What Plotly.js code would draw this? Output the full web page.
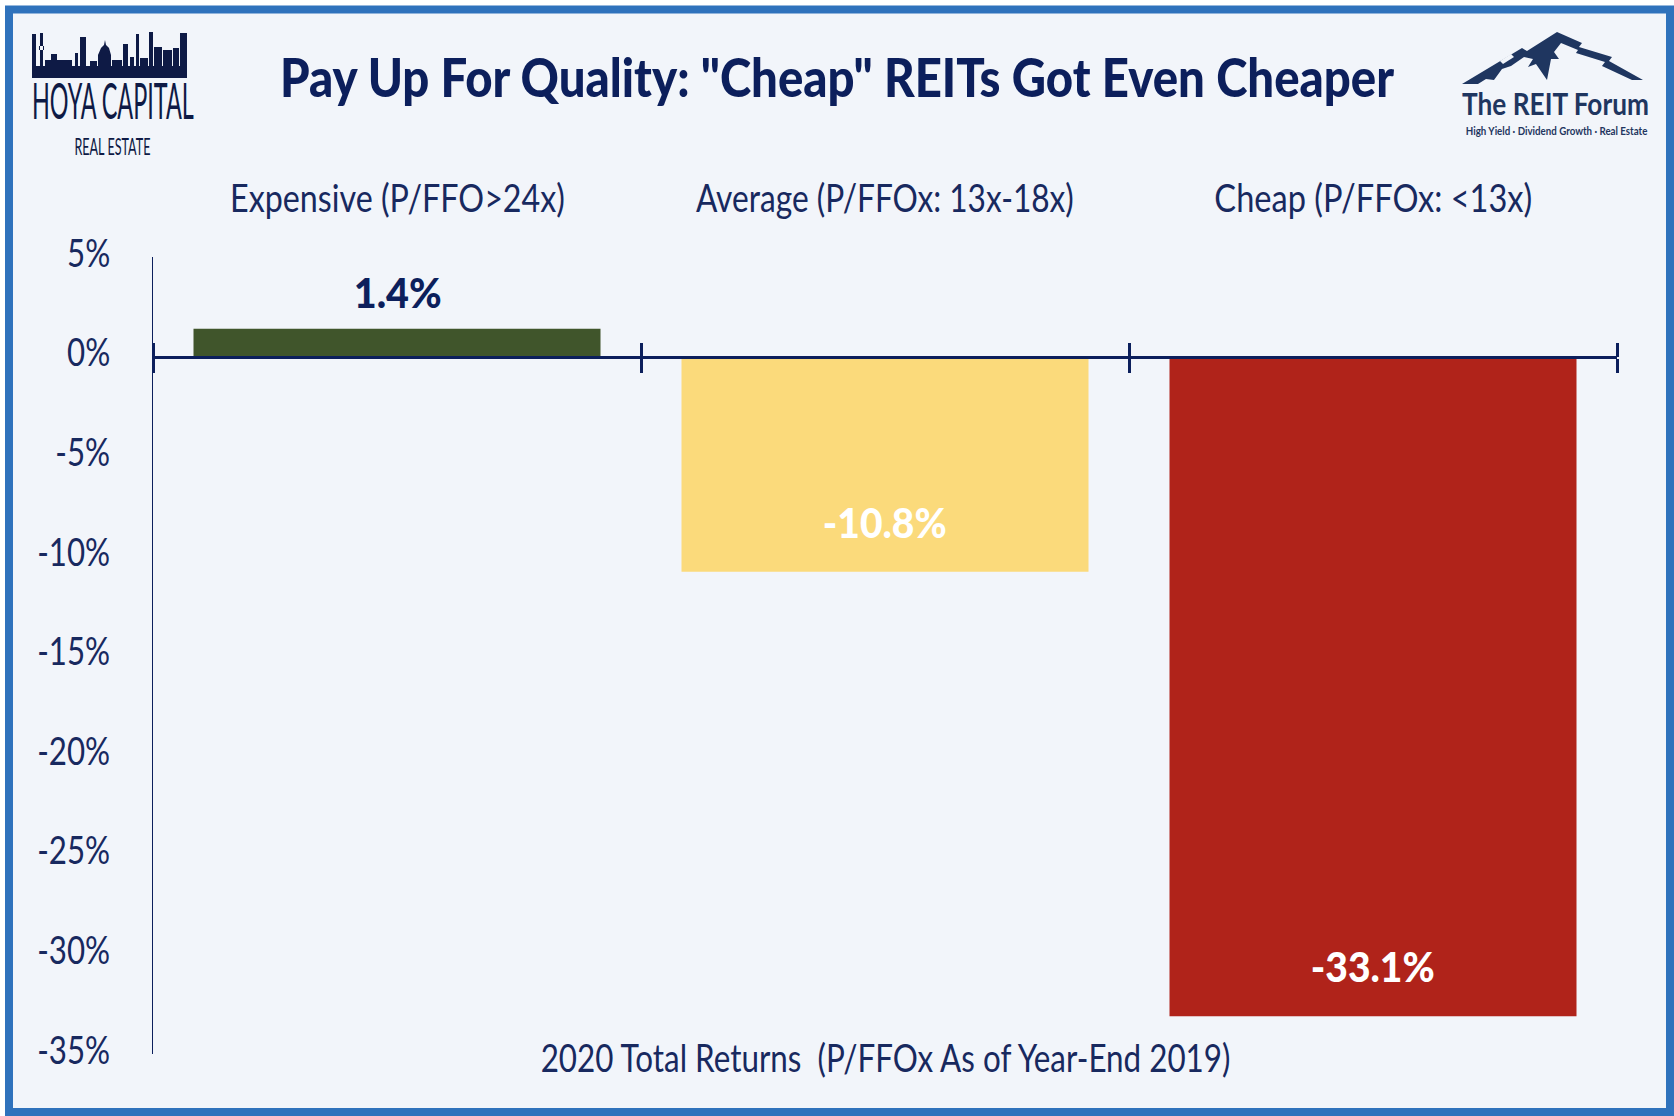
<!DOCTYPE html>
<html>
<head>
<meta charset="utf-8">
<script src="https://cdn.plot.ly/plotly-3.0.1.min.js"></script>
<style>
  html, body { margin: 0; padding: 0; background: #ffffff; }
  #chart { width: 1674px; height: 1116px; }
</style>
</head>
<body>
<div id="chart"></div>
<script>
// ---- data ----
var categories = ['Expensive (P/FFO>24x)', 'Average (P/FFOx: 13x-18x)', 'Cheap (P/FFOx: <13x)'];
var returns2020 = [1.4, -10.8, -33.1];
var barColors = ['#40552B', '#FBDA7B', '#B0231A'];
var yTicks = [5, 0, -5, -10, -15, -20, -25, -30, -35];
var chartTitle = 'Pay Up For Quality: "Cheap" REITs Got Even Cheaper';
var xTitle = '2020 Total Returns \u00A0(P/FFOx As of Year-End 2019)';

// ---- page geometry (pixels) ----
var FW = 1674, FH = 1116;
var M = {l: 153, r: 57, t: 257, b: 62};
var PW = FW - M.l - M.r, PH = FH - M.t - M.b;
function px(x) { return (x - M.l) / PW; }
function py(y) { return (FH - M.b - y) / PH; }
function path(pts) {
  return 'M' + pts.map(function (p) { return px(p[0]).toFixed(5) + ',' + py(p[1]).toFixed(5); }).join('L') + 'Z';
}
function box(x0, x1, y0, y1) { return path([[x0, y0], [x1, y0], [x1, y1], [x0, y1]]); }
function esc(s) { return s.replace(/</g, '&lt;').replace(/>/g, '&gt;'); }

var NAVY = '#0C1F5C';
var NAVY_TXT = '#18295F';
var FONT = 'Lato, "Open Sans", "DejaVu Sans", sans-serif';

var idx = categories.map(function (c, i) { return i; });
var bounds = idx.map(function (i) { return i - 0.5; }).concat([idx.length - 0.5]);
var yMin = yTicks[yTicks.length - 1], yMax = yTicks[0];
var zeroPos = (0 - yMin) / (yMax - yMin);

var data = [
  {
    type: 'bar',
    x: idx,
    y: returns2020,
    width: 0.834,
    marker: {color: barColors, line: {width: 0}},
    hoverinfo: 'skip'
  },
  { // carrier for the upper tick marks on the zero line
    type: 'scatter',
    x: idx,
    y: returns2020,
    xaxis: 'x2',
    mode: 'none',
    hoverinfo: 'skip',
    showlegend: false
  }
];

// skyline (Hoya Capital logo)
var skyline = [
  box(32, 187, 66, 78),
  box(32, 36, 34, 66), box(40, 43, 33, 66), box(39, 44, 46, 50),
  box(45, 72, 60, 66), box(51, 57, 54, 60),
  box(75, 78, 53, 66), box(80, 86, 37, 66), box(90, 97, 61, 66),
  path([[98, 66], [98, 55], [101, 48], [104, 45], [105, 40], [106, 45], [109, 48], [111, 55], [111, 66]]),
  box(112, 122, 60, 66), box(123, 128, 44, 66), box(130, 134, 57, 66),
  box(136, 139, 34, 66), box(140, 148, 58, 66), box(149, 153, 32, 66),
  box(154, 162, 47, 66), box(163, 172, 50, 66), box(173, 179, 48, 66), box(180, 187, 33, 66)
];

// mountain (The REIT Forum logo)
var mountain = path([
  [1462, 84], [1522, 48], [1527, 51], [1557, 32], [1582, 43], [1579, 47], [1612, 57], [1609, 61],
  [1643, 80], [1632, 80], [1602, 66], [1605, 62], [1576, 53], [1578, 50], [1561, 43], [1554, 52],
  [1559, 59], [1551, 59], [1547, 80], [1536, 64], [1528, 67], [1533, 59], [1524, 57], [1511, 66],
  [1502, 69], [1494, 80], [1486, 79], [1478, 84]
]);
var snow = path([[1500, 61], [1511, 54], [1514, 57], [1503, 64]]);

var shapes = [
  {type: 'rect', xref: 'paper', yref: 'paper', layer: 'below',
   x0: px(9), x1: px(1670), y0: py(9.5), y1: py(1112),
   fillcolor: '#F2F5FA', line: {color: '#2F72BC', width: 8}},
  {type: 'path', xref: 'paper', yref: 'paper', path: skyline.join(' '),
   fillcolor: '#0E1A45', line: {width: 0}},
  {type: 'path', xref: 'paper', yref: 'paper', path: mountain,
   fillcolor: '#1F3660', line: {width: 0}},
  {type: 'path', xref: 'paper', yref: 'paper', path: snow,
   fillcolor: '#F2F5FA', line: {width: 0}}
];

// annotations; fit[i] = width (px) that annotation i is squeezed to after drawing
var annotations = [];
var fit = {};
function addNote(a, width) {
  if (width) fit[annotations.length] = width;
  annotations.push(Object.assign({showarrow: false, xanchor: 'center', yanchor: 'middle'}, a));
}

// category headers
var headerWidths = [335, 378, 318];
categories.forEach(function (c, i) {
  addNote({
    text: esc(c), x: idx[i], xref: 'x', y: py(197), yref: 'paper',
    font: {family: FONT, size: 39, weight: 400, color: NAVY_TXT}
  }, headerWidths[i]);
});
// value labels
returns2020.forEach(function (v, i) {
  addNote({
    text: v.toFixed(1) + '%', x: idx[i], xref: 'x', y: v, yref: 'y',
    yshift: v >= 0 ? 37 : 50,
    font: {family: FONT, size: 42, weight: 900, color: v >= 0 ? NAVY : '#FFFFFF'}
  }, v >= 0 ? 88 : 124);
});
// x title
addNote({
  text: xTitle, x: 0.5, xref: 'paper', y: py(1057), yref: 'paper',
  font: {family: FONT, size: 39, weight: 400, color: NAVY_TXT}
}, 690);

// logo texts
addNote({
  text: 'HOYA CAPITAL', x: px(113), xref: 'paper', y: py(100), yref: 'paper',
  font: {family: FONT, size: 50, color: '#0E1A45'}
}, 162);
addNote({
  text: 'REAL ESTATE', x: px(112), xref: 'paper', y: py(145), yref: 'paper',
  font: {family: FONT, size: 24, color: '#0E1A45'}
}, 76);
addNote({
  text: 'The REIT Forum', x: px(1555), xref: 'paper', y: py(103), yref: 'paper',
  font: {family: FONT, size: 31, weight: 700, color: '#1F3660'}
}, 187);
addNote({
  text: 'High Yield · Dividend Growth · Real Estate', x: px(1556), xref: 'paper', y: py(130), yref: 'paper',
  font: {family: FONT, size: 11, weight: 700, color: '#1F3660'}
}, 182);

var tickAxis = {
  range: [-0.5, idx.length - 0.5],
  tickmode: 'array',
  tickvals: bounds,
  showticklabels: false,
  ticks: 'outside',
  ticklen: 14,
  tickwidth: 2.5,
  tickcolor: NAVY,
  showgrid: false,
  zeroline: false,
  anchor: 'free',
  position: zeroPos,
  fixedrange: true
};

var layout = {
  width: FW,
  height: FH,
  margin: M,
  paper_bgcolor: '#FFFFFF',
  plot_bgcolor: 'rgba(0,0,0,0)',
  showlegend: false,
  title: {
    text: chartTitle,
    font: {family: FONT, size: 54, weight: 900, color: NAVY},
    xref: 'paper', x: px(837), xanchor: 'center',
    yref: 'container', y: 1 - 78 / FH, yanchor: 'middle'
  },
  xaxis: Object.assign({}, tickAxis, {showline: true, linecolor: NAVY, linewidth: 3}),
  xaxis2: Object.assign({}, tickAxis, {overlaying: 'x', side: 'top', showline: false}),
  yaxis: {
    range: [yMin, yMax],
    tickmode: 'array',
    tickvals: yTicks,
    ticktext: yTicks.map(function (v) { return v + '%'; }),
    ticks: '',
    ticklabelstandoff: 34,
    showline: true,
    linecolor: NAVY,
    linewidth: 1,
    showgrid: false,
    zeroline: false,
    tickfont: {family: FONT, size: 39, weight: 400, color: NAVY_TXT},
    fixedrange: true
  },
  shapes: shapes,
  annotations: annotations
};

var config = {displayModeBar: false, responsive: false};

// horizontal squeeze about the anchor x, kept on top of Plotly's own transform
function squeezeX(el, s, anchor, dy) {
  var b = el.getBBox();
  var ax = anchor === 'end' ? b.x + b.width : b.x + b.width / 2;
  var tr = el.getAttribute('transform') || '';
  el.setAttribute('transform', tr + ' translate(' + ax + ',' + (dy || 0) + ') scale(' + s.toFixed(4) + ',1) translate(' + (-ax) + ',0)');
}

Plotly.newPlot('chart', data, layout, config).then(function (gd) {
  // condensed look: squeeze texts to the widths
  Object.keys(fit).forEach(function (k) {
    var t = gd.querySelector('.annotation[data-index="' + k + '"] text');
    if (t && t.getBBox().width) squeezeX(t, fit[k] / t.getBBox().width);
  });
  var title = gd.querySelector('.gtitle');
  if (title && title.getBBox().width) squeezeX(title, 1115 / title.getBBox().width);
  var yl = Array.prototype.slice.call(gd.querySelectorAll('.ytick text'));
  var wMax = Math.max.apply(null, yl.map(function (t) { return t.getBBox().width; }));
  if (wMax > 0) yl.forEach(function (t) { squeezeX(t, 73 / wMax, 'end', -4); });
});
</script>
</body>
</html>
